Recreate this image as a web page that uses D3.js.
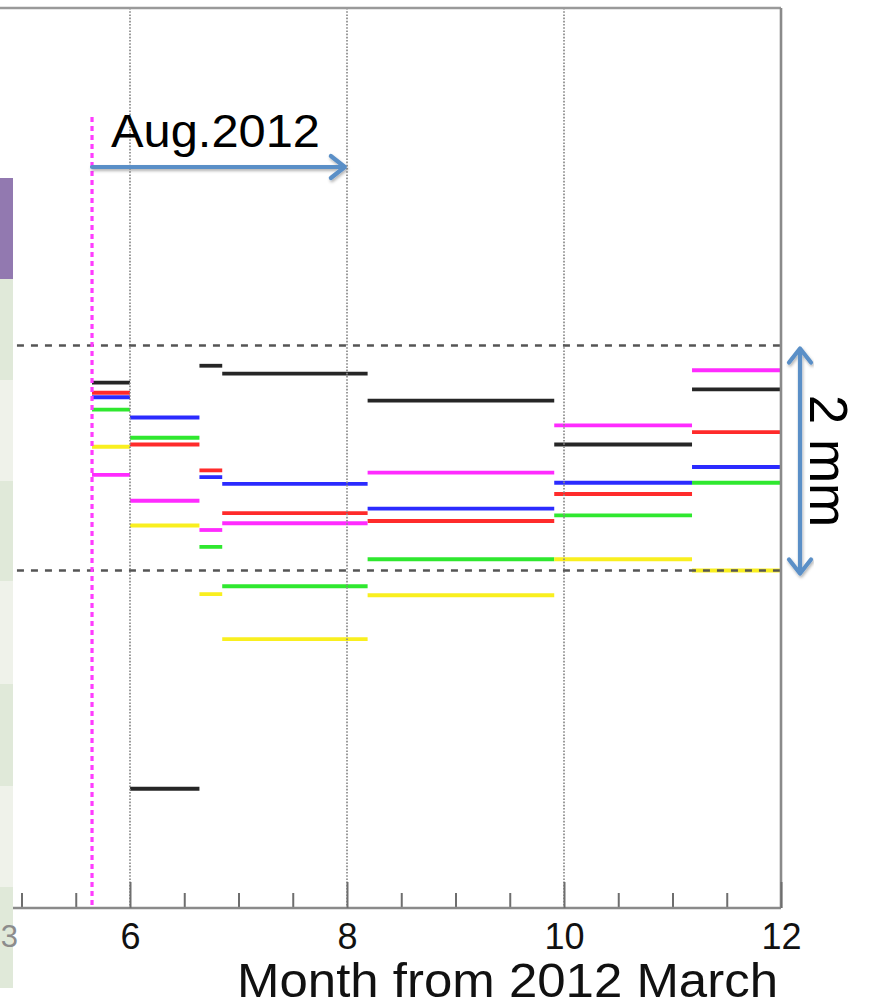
<!DOCTYPE html>
<html>
<head>
<meta charset="utf-8">
<script src="https://cdn.jsdelivr.net/npm/d3@7"></script>
<style>
  html, body { margin: 0; padding: 0; background: #ffffff; }
  svg { display: block; }
  text { font-family: "Liberation Sans", Arial, Helvetica, sans-serif; }
</style>
</head>
<body>
<svg id="chart" width="876" height="1007"></svg>
<script>
// ---------------- DATA ----------------
// Period boundaries (month from 2012 March)
const periodBounds = [5.65, 6.0, 6.64, 6.85, 8.19, 9.91, 11.18, 12.0];

// Values per period (mm, relative), one array per series
const seriesNames = ["black", "red", "blue", "green", "yellow", "magenta"];
const blackValues   = [0.67, -2.94, 0.82, 0.75, 0.51, 0.12, 0.61];
const redValues     = [0.58, 0.12, -0.11, -0.49, -0.56, -0.32, 0.23];
const blueValues    = [0.54, 0.36, -0.17, -0.23, -0.45, -0.22, -0.08];
const greenValues   = [0.43, 0.18, -0.79, -1.14, -0.90, -0.51, -0.22];
const yellowValues  = [0.10, -0.60, -1.21, -1.61, -1.22, -0.90, -1.00];
const magentaValues = [-0.15, -0.38, -0.64, -0.58, -0.13, 0.29, 0.78];

const seriesColors = {
  black: "#262626", red: "#ff2b2b", blue: "#2b2bff",
  green: "#2fe82f", yellow: "#f9ef1f", magenta: "#ff2bff"
};

const majorTicks = [6, 8, 10, 12];
const minorTicks = [4.5, 5, 5.5, 6.5, 7, 7.5, 8.5, 9, 9.5, 10.5, 11, 11.5];
const gridMonths = [6, 8, 10];
const toleranceBand = [-1, 1];
const markerMonth = 5.65;
const xTitle = "Month from 2012 March";
const annotationText = "Aug.2012";
const annotationArrow = [5.65, 7.98];
const bandLabel = "2 mm";
const pageNumberVisible = "3";

// ---------------- SCALES ----------------
const svg = d3.select("#chart");
const x = d3.scaleLinear().domain([6, 12]).range([130, 781]);
const y = d3.scaleLinear().domain([-4, 4]).range([908, 8]);
const xLeft = 4.7;

const defs = svg.append("defs");
const f = defs.append("filter").attr("id", "shadow")
  .attr("x", "-10%").attr("y", "-50%").attr("width", "120%").attr("height", "200%");
f.append("feDropShadow").attr("dx", 1).attr("dy", 2).attr("stdDeviation", 1.5)
  .attr("flood-color", "#000").attr("flood-opacity", 0.3);

// ---------------- SEGMENTS ----------------
const allSeries = [
  ["black", blackValues], ["red", redValues], ["blue", blueValues],
  ["green", greenValues], ["yellow", yellowValues], ["magenta", magentaValues]
];
const segs = [];
allSeries.forEach(([name, vals]) => {
  vals.forEach((v, i) => {
    segs.push({ name, v, x0: periodBounds[i], x1: periodBounds[i + 1] });
  });
});
svg.append("g").attr("class", "segments")
  .selectAll("line").data(segs).join("line")
  .attr("x1", d => x(d.x0)).attr("x2", d => x(d.x1))
  .attr("y1", d => y(d.v)).attr("y2", d => y(d.v))
  .attr("stroke", d => seriesColors[d.name])
  .attr("stroke-width", 3.8);

// ---------------- GRID ----------------
svg.append("g").selectAll("line").data(gridMonths).join("line")
  .attr("x1", d => x(d)).attr("x2", d => x(d))
  .attr("y1", y(4)).attr("y2", y(-4))
  .attr("stroke", "#8a8a8a").attr("stroke-width", 1.7)
  .attr("stroke-dasharray", "1.6,1.6");

svg.append("g").selectAll("line").data(toleranceBand).join("line")
  .attr("x1", x(xLeft)).attr("x2", x(12))
  .attr("y1", d => y(d)).attr("y2", d => y(d))
  .attr("stroke", "#555").attr("stroke-width", 2.5)
  .attr("stroke-dasharray", "7,7");

// magenta marker line
svg.append("line")
  .attr("x1", x(markerMonth)).attr("x2", x(markerMonth))
  .attr("y1", 117).attr("y2", y(-4))
  .attr("stroke", "#ff3cff").attr("stroke-width", 3.2)
  .attr("stroke-dasharray", "5,4");

// ---------------- FRAME & AXES ----------------
svg.append("line").attr("x1", x(xLeft)).attr("x2", x(12))
  .attr("y1", y(4)).attr("y2", y(4))
  .attr("stroke", "#9a9a9a").attr("stroke-width", 2.6);
svg.append("line").attr("x1", x(12)).attr("x2", x(12))
  .attr("y1", y(4)).attr("y2", y(-4))
  .attr("stroke", "#8a8a8a").attr("stroke-width", 2.6);

const majorAxis = d3.axisBottom(x).tickValues(majorTicks)
  .tickSizeInner(-26).tickSizeOuter(0).tickPadding(15)
  .tickFormat(d3.format("d"));
const minorAxis = d3.axisBottom(x).tickValues(minorTicks)
  .tickSizeInner(-15).tickSizeOuter(0).tickFormat("");

const gMinor = svg.append("g").attr("transform", `translate(0,${y(-4)})`).call(minorAxis);
gMinor.select(".domain").remove();
gMinor.selectAll(".tick line").attr("stroke", "#6e6e6e").attr("stroke-width", 2);

const gMajor = svg.append("g").attr("transform", `translate(0,${y(-4)})`).call(majorAxis);
gMajor.select(".domain").attr("d", `M${x(xLeft)},0H${x(12)}`)
  .attr("stroke", "#8a8a8a").attr("stroke-width", 2.6);
gMajor.selectAll(".tick line").attr("stroke", "#6e6e6e").attr("stroke-width", 2);
gMajor.selectAll(".tick text")
  .attr("font-family", "'Liberation Sans', Arial, sans-serif")
  .attr("font-size", 36).attr("fill", "#111");

svg.append("text").text(xTitle)
  .attr("x", 778).attr("y", 997).attr("text-anchor", "end")
  .attr("font-size", 49).attr("fill", "#111")
  .attr("textLength", 541).attr("lengthAdjust", "spacingAndGlyphs");

// ---------------- ANNOTATIONS ----------------
const arrowColor = "#5a8fc7";
svg.append("text").text(annotationText)
  .attr("x", 111).attr("y", 147)
  .attr("font-size", 47).attr("fill", "#000")
  .attr("textLength", 209).attr("lengthAdjust", "spacingAndGlyphs");

const ga = svg.append("g").attr("filter", "url(#shadow)")
  .attr("stroke", arrowColor).attr("stroke-width", 4.2)
  .attr("stroke-linecap", "round").attr("fill", "none");
const ax0 = x(annotationArrow[0]), ax1 = x(annotationArrow[1]), ay = 167;
ga.append("line").attr("x1", ax0).attr("x2", ax1 - 1).attr("y1", ay).attr("y2", ay);
ga.append("path").attr("d", `M${ax1 - 14},${ay - 11}L${ax1},${ay}L${ax1 - 14},${ay + 11}`)
  .attr("stroke-linejoin", "round");

// 2 mm double arrow
const bx = 800, by0 = y(toleranceBand[1]) + 3, by1 = y(toleranceBand[0]) + 3;
const gb = svg.append("g").attr("filter", "url(#shadow)")
  .attr("stroke", arrowColor).attr("stroke-width", 4.2)
  .attr("stroke-linecap", "round").attr("fill", "none");
gb.append("line").attr("x1", bx).attr("x2", bx).attr("y1", by0 + 1).attr("y2", by1 - 1);
gb.append("path").attr("d", `M${bx - 11},${by0 + 14}L${bx},${by0}L${bx + 11},${by0 + 14}`)
  .attr("stroke-linejoin", "round");
gb.append("path").attr("d", `M${bx - 11},${by1 - 14}L${bx},${by1}L${bx + 11},${by1 - 14}`)
  .attr("stroke-linejoin", "round");

svg.append("text").text(bandLabel)
  .attr("transform", `translate(810,${(by0 + by1) / 2}) rotate(90)`)
  .attr("text-anchor", "middle")
  .attr("font-size", 53).attr("fill", "#000");

// ---------------- SLIDE STRIP (left) ----------------
const stripRows = [
  [178, 279, "#9279b0"], [279, 380, "#e0e9d9"], [380, 481, "#eff2ea"],
  [481, 581, "#e0e9d9"], [581, 684, "#eff2ea"], [684, 786, "#e0e9d9"],
  [786, 887, "#eff2ea"], [887, 988, "#e0e9d9"]
];
svg.append("g").selectAll("rect").data(stripRows).join("rect")
  .attr("x", 0).attr("width", 13)
  .attr("y", d => d[0]).attr("height", d => d[1] - d[0])
  .attr("fill", d => d[2]);

svg.append("text").text(pageNumberVisible)
  .attr("x", 18).attr("y", 947).attr("text-anchor", "end")
  .attr("font-family", "'Open Sans', 'Liberation Sans', sans-serif")
  .attr("font-size", 31).attr("fill", "#8c8c8c");
</script>
</body>
</html>
